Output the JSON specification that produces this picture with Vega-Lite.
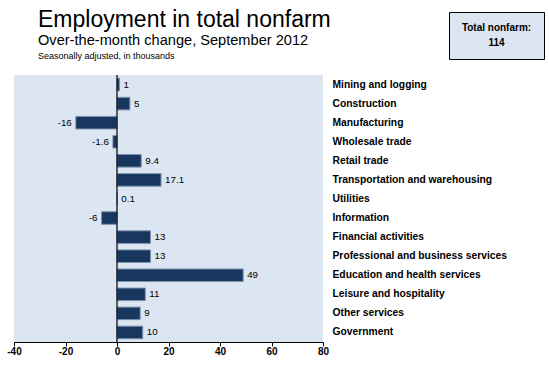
{
  "$schema": "https://vega.github.io/schema/vega-lite/v6.json",
  "background": "white",
  "padding": {"top": 9, "left": 6, "right": 0, "bottom": 0},
  "config": {"view": {"stroke": null}, "font": "Liberation Sans"},
  "spacing": 0,
  "vconcat": [
    {
      "spacing": 10,
      "hconcat": [
        {
          "width": 424,
          "height": 62,
          "data": {"values": [
            {"order": 1, "line": "Employment in total nonfarm"},
            {"order": 2, "line": "Over-the-month change, September 2012"},
            {"order": 3, "line": "Seasonally adjusted, in thousands"}
          ]},
          "encoding": {
            "y": {"field": "order", "type": "ordinal", "axis": null, "scale": {"type": "point", "padding": 0.9375}},
            "text": {"field": "line", "type": "nominal"}
          },
          "layer": [
            {"transform": [{"filter": "datum.order == 1"}],
             "mark": {"type": "text", "align": "left", "baseline": "alphabetic", "dx": -188, "fontSize": 23, "font": "Liberation Sans", "color": "black"}},
            {"transform": [{"filter": "datum.order == 2"}],
             "mark": {"type": "text", "align": "left", "baseline": "alphabetic", "dx": -188, "dy": 2, "fontSize": 14.6, "font": "Liberation Sans", "color": "black"}},
            {"transform": [{"filter": "datum.order == 3"}],
             "mark": {"type": "text", "align": "left", "baseline": "alphabetic", "dx": -188, "fontSize": 9, "font": "Liberation Sans", "color": "black"}}
          ]
        },
        {
          "width": 95,
          "height": 47,
          "view": {"fill": "#dce6f2", "stroke": "black", "strokeWidth": 1},
          "data": {"values": [{"line": "Total nonfarm:"}, {"line": "114"}]},
          "mark": {"type": "text", "fontSize": 10, "fontWeight": "bold", "font": "Liberation Sans", "baseline": "middle", "color": "black"},
          "encoding": {
            "y": {"field": "line", "type": "nominal", "sort": null, "axis": null, "scale": {"type": "point", "padding": 1.3}},
            "text": {"field": "line", "type": "nominal"}
          }
        }
      ]
    },
    {
      "width": 309,
      "height": 267,
      "view": {"fill": "#dce6f2", "stroke": null},
      "data": {"values": [
        {"industry": "Mining and logging", "change": 1},
        {"industry": "Construction", "change": 5},
        {"industry": "Manufacturing", "change": -16},
        {"industry": "Wholesale trade", "change": -1.6},
        {"industry": "Retail trade", "change": 9.4},
        {"industry": "Transportation and warehousing", "change": 17.1},
        {"industry": "Utilities", "change": 0.1},
        {"industry": "Information", "change": -6},
        {"industry": "Financial activities", "change": 13},
        {"industry": "Professional and business services", "change": 13},
        {"industry": "Education and health services", "change": 49},
        {"industry": "Leisure and hospitality", "change": 11},
        {"industry": "Other services", "change": 9},
        {"industry": "Government", "change": 10}
      ]},
      "layer": [
        {
          "mark": {"type": "bar", "fill": "#17375e", "stroke": "#8094ae", "strokeWidth": 1},
          "encoding": {
            "y": {"field": "industry", "type": "nominal", "sort": null,
                  "scale": {"paddingInner": 0.34, "paddingOuter": 0.17},
                  "axis": {"orient": "right", "title": null, "ticks": false, "domain": false, "labelPadding": 9,
                           "labelFont": "Liberation Sans", "labelFontSize": 10.3, "labelFontWeight": "bold", "labelColor": "black", "labelLimit": 300}},
            "x": {"field": "change", "type": "quantitative",
                  "scale": {"domain": [-40, 80], "nice": false, "zero": false},
                  "axis": {"values": [-40, -20, 0, 20, 40, 60, 80], "labelExpr": "'' + datum.value", "title": null, "grid": false, "domainColor": "black", "domainWidth": 1,
                           "tickColor": "black", "tickSize": 4, "labelPadding": 0, "labelFlush": false,
                           "labelFont": "Liberation Sans", "labelFontSize": 10, "labelFontWeight": "bold", "labelColor": "black"}}
          }
        },
        {
          "data": {"values": [{"baseline": 0}]},
          "mark": {"type": "rule", "color": "black", "strokeWidth": 1.2},
          "encoding": {"x": {"field": "baseline", "type": "quantitative"}}
        },
        {
          "transform": [{"filter": "datum.change >= 0"}],
          "mark": {"type": "text", "align": "left", "baseline": "middle", "dx": 4, "fontSize": 9.8, "font": "Liberation Sans", "color": "black"},
          "encoding": {
            "y": {"field": "industry", "type": "nominal", "sort": null},
            "x": {"field": "change", "type": "quantitative"},
            "text": {"field": "change", "type": "nominal"}
          }
        },
        {
          "transform": [{"filter": "datum.change < 0"}],
          "mark": {"type": "text", "align": "right", "baseline": "middle", "dx": -4, "fontSize": 9.8, "font": "Liberation Sans", "color": "black"},
          "encoding": {
            "y": {"field": "industry", "type": "nominal", "sort": null},
            "x": {"field": "change", "type": "quantitative"},
            "text": {"field": "change", "type": "nominal"}
          }
        }
      ]
    }
  ]
}
